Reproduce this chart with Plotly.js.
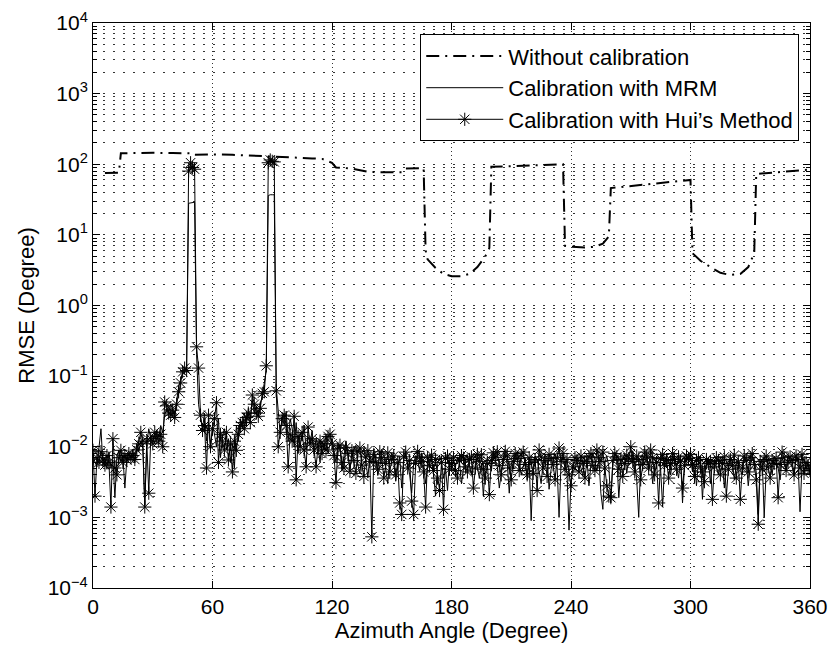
<!DOCTYPE html>
<html>
<head>
<meta charset="utf-8">
<script src="https://cdn.plot.ly/plotly-3.0.1.min.js"></script>
<style>html,body{margin:0;padding:0;background:#fff;}#chart{width:831px;height:653px;}</style>
</head>
<body>
<div id="chart"></div>
<script>
// Azimuth angles (degrees) for the calibrated series
var angles = [];
for (var a = 0; a <= 360; a++) angles.push(a);

// Without calibration
var withoutX = [6,13,14,20,30,40,49,50,60,70,80,90,100,110,115,120,122,130,138,145,155,156,157,166,167,168,172,176,180,185,189,193,197,199,200,210,220,230,236,237,240,247,252,256,259,260,270,280,290,300,301,305,310,315,320,325,329,332,333,340,350,360];
var withoutY = [75,76,143,145,145,144,143,136,138,136,133,130,125,121,119,105,90,87,78,77,77,80,87,88,6,4.5,3.4,2.8,2.6,2.6,2.8,3.5,5,6.5,92,94,96,98,100,7,6.8,6.6,6.8,7.5,9.5,46,49,53,56,60,5.5,4.3,3.5,2.9,2.7,2.8,3.5,5.5,73,76,79,84];

// Calibration with MRM (0..360 deg, 1 deg step)
var mrm = [
0.0080,0.0060,0.0052,0.0090,0.0180,0.0055,0.0070,0.0048,0.0085,0.0050,
0.0065,0.0019,0.0072,0.0090,0.0060,0.0075,0.0026,0.0068,0.0080,0.0070,
0.0090,0.0060,0.0110,0.0085,0.0120,0.0095,0.0015,0.0110,0.0180,0.0130,
0.0150,0.0110,0.0170,0.0140,0.0200,0.0160,0.0280,0.0350,0.0300,0.0400,
0.0330,0.0280,0.0450,0.0700,0.0900,0.1100,0.1200,0.1300,28,28.5,
29,29,0.2000,0.0400,0.0250,0.0180,0.0300,0.0120,0.0220,0.0090,
0.0200,0.0150,0.0100,0.0250,0.0070,0.0140,0.0180,0.0090,0.0130,0.0060,
0.0110,0.0050,0.0200,0.0120,0.0250,0.0180,0.0300,0.0200,0.0350,0.0250,
0.0450,0.0300,0.0380,0.0280,0.0420,0.0500,0.0800,0.1200,36,37,
37,37,0.0700,0.0350,0.0150,0.0280,0.0200,0.0320,0.0120,0.0250,
0.0180,0.0100,0.0220,0.0080,0.0160,0.0120,0.0200,0.0090,0.0140,0.0110,
0.0170,0.0080,0.0130,0.0100,0.0060,0.0120,0.0090,0.0150,0.0080,0.0110,
0.0130,0.0085,0.0060,0.0110,0.0095,0.0045,0.0070,0.0120,0.0080,0.0050,
0.0068,0.0092,0.0105,0.0055,0.0042,0.0080,0.0095,0.0064,0.0036,0.0075,
0.0058,0.0088,0.0070,0.0040,0.0052,0.0092,0.0078,0.0046,0.0030,0.0066,
0.0082,0.0060,0.0033,0.0050,0.0072,0.0026,0.0065,0.0080,0.0054,0.0040,
0.0022,0.0058,0.0075,0.0068,0.0045,0.0082,0.0060,0.0030,0.0052,0.0078,
0.0064,0.0040,0.0020,0.0055,0.0075,0.0062,0.0036,0.0050,0.0024,0.0066,
0.0062,0.0045,0.0052,0.0072,0.0060,0.0030,0.0048,0.0068,0.0075,0.0056,
0.0040,0.0065,0.0078,0.0050,0.0036,0.0058,0.0020,0.0055,0.0070,0.0062,
0.0045,0.0080,0.0066,0.0052,0.0026,0.0042,0.0070,0.0076,0.0058,0.0022,
0.0060,0.0048,0.0072,0.0085,0.0064,0.0040,0.0055,0.0068,0.0034,0.0062,
0.0009,0.0050,0.0074,0.0066,0.0045,0.0030,0.0060,0.0078,0.0070,0.0025,
0.0048,0.0064,0.0080,0.0055,0.0010,0.0058,0.0072,0.0066,0.0042,0.00066,
0.0032,0.0056,0.0046,0.0070,0.0062,0.0050,0.0038,0.0075,0.0068,0.0028,
0.0055,0.0082,0.0064,0.0045,0.0070,0.0022,0.0013,0.0060,0.0074,0.0052,
0.0016,0.0058,0.0084,0.0070,0.0019,0.0048,0.0066,0.0080,0.0042,0.0072,
0.0060,0.0088,0.0050,0.0034,0.0010,0.0062,0.0076,0.0056,0.0082,0.0045,
0.0068,0.0030,0.0055,0.0074,0.0064,0.0048,0.0014,0.0058,0.0078,0.0066,
0.0040,0.0062,0.0072,0.0050,0.0036,0.0068,0.0016,0.0054,0.0076,0.0060,
0.0070,0.0044,0.0058,0.0028,0.0064,0.0074,0.0018,0.0056,0.0048,0.0068,
0.0030,0.0060,0.0066,0.0052,0.0040,0.0072,0.0058,0.0026,0.0064,0.0050,
0.0074,0.0062,0.0034,0.0056,0.0068,0.0046,0.0040,0.0070,0.0060,0.0028,
0.0052,0.0072,0.0064,0.0044,0.0011,0.0058,0.0066,0.0010,0.0048,0.0070,
0.0056,0.0040,0.0074,0.0062,0.0050,0.0034,0.0068,0.0058,0.0045,0.0078,
0.0064,0.0052,0.0038,0.0072,0.0060,0.0012,0.0056,0.0070,0.0046,0.0062,
0.0040];

// Calibration with Hui's Method (0..360 deg, 1 deg step)
var hui = [
0.0089,0.0020,0.0070,0.0060,0.0085,0.0065,0.0055,0.0075,0.0060,0.0014,
0.0130,0.0050,0.0040,0.0070,0.0089,0.0060,0.0075,0.0065,0.0080,0.0070,
0.0075,0.0066,0.0090,0.0110,0.0160,0.0120,0.0014,0.0120,0.0022,0.0130,
0.0110,0.0160,0.0140,0.0120,0.0150,0.0100,0.0430,0.0380,0.0300,0.0280,
0.0330,0.0260,0.0400,0.0600,0.0800,0.1150,0.1300,0.1200,80,105,
90,85,0.2600,0.1300,0.0280,0.0170,0.0200,0.0050,0.0280,0.0100,
0.0180,0.0250,0.0420,0.0060,0.0150,0.0120,0.0090,0.0160,0.0065,0.0110,
0.0044,0.0120,0.0089,0.0150,0.0200,0.0220,0.0180,0.0260,0.0300,0.0220,
0.0540,0.0400,0.0300,0.0270,0.0350,0.0570,0.0600,0.1400,105,115,
110,108,0.0620,0.0100,0.0160,0.0250,0.0280,0.0200,0.0052,0.0150,
0.0120,0.0270,0.0034,0.0140,0.0100,0.0160,0.0090,0.0052,0.0190,0.0110,
0.0130,0.0090,0.0052,0.0100,0.0120,0.0080,0.0110,0.0090,0.0140,0.0150,
0.0110,0.0075,0.0031,0.0095,0.0105,0.0060,0.0050,0.0098,0.0080,0.0045,
0.0088,0.0064,0.0042,0.0085,0.0096,0.0055,0.0038,0.0072,0.0088,0.0062,
0.00053,0.0078,0.0060,0.0048,0.0085,0.0070,0.0036,0.0058,0.0082,0.0044,
0.0066,0.0074,0.0040,0.0060,0.0016,0.0011,0.0072,0.0084,0.0050,0.0064,
0.0017,0.0011,0.0058,0.0086,0.0072,0.0062,0.0044,0.0014,0.0070,0.0054,
0.0076,0.0046,0.0066,0.0036,0.0024,0.0060,0.0013,0.0068,0.0074,0.0048,
0.0058,0.0070,0.0046,0.0036,0.0064,0.0075,0.0069,0.0052,0.0044,0.0066,
0.0072,0.0026,0.0050,0.0078,0.0062,0.0077,0.0048,0.0036,0.0058,0.0021,
0.0064,0.0082,0.0070,0.0085,0.0054,0.0040,0.0066,0.0086,0.0074,0.0050,
0.0034,0.0062,0.0080,0.0068,0.0046,0.0076,0.0084,0.0056,0.0040,0.0070,
0.0060,0.0042,0.0066,0.0024,0.0090,0.0072,0.0050,0.0064,0.0038,0.0078,
0.0068,0.0056,0.0034,0.0070,0.0096,0.0062,0.0080,0.0048,0.0066,0.0040,
0.0028,0.0052,0.0070,0.0064,0.0044,0.0074,0.0058,0.0036,0.0062,0.0072,
0.0080,0.0054,0.0046,0.0090,0.0070,0.0062,0.0084,0.0050,0.0028,0.0020,
0.0019,0.0064,0.0080,0.0072,0.0048,0.0066,0.0038,0.0058,0.0076,0.0068,
0.0100,0.0062,0.0044,0.0074,0.0066,0.0034,0.0056,0.0084,0.0072,0.0050,
0.0090,0.0070,0.0040,0.0060,0.0016,0.0068,0.0078,0.0054,0.0064,0.0036,
0.0058,0.0080,0.0066,0.0048,0.0072,0.0062,0.0026,0.0054,0.0074,0.0068,
0.0078,0.0056,0.0038,0.0064,0.0070,0.0052,0.0044,0.0032,0.0066,0.0058,
0.0062,0.0018,0.0052,0.0070,0.0064,0.0040,0.0058,0.0072,0.0020,0.0048,
0.0066,0.0054,0.0076,0.0036,0.0060,0.0018,0.0050,0.0074,0.0064,0.0044,
0.0070,0.0080,0.0056,0.0034,0.0008,0.0062,0.0048,0.0066,0.0074,0.0052,
0.0036,0.0064,0.0058,0.0068,0.0019,0.0056,0.0084,0.0070,0.0046,0.0060,
0.0072,0.0064,0.0040,0.0074,0.0066,0.0050,0.0078,0.0042,0.0060,0.0054,
0.0046];

// Axis tick labels
var xTicks = [0,60,120,180,240,300,360];
var yTickExp = [-4,-3,-2,-1,0,1,2,3,4];
var yTickText = ['10<sup>\u22124</sup>','10<sup>\u22123</sup>','10<sup>\u22122</sup>','10<sup>\u22121</sup>','10<sup>0</sup>','10<sup>1</sup>','10<sup>2</sup>','10<sup>3</sup>','10<sup>4</sup>'];
var seriesNames = ['Without calibration','Calibration with MRM','Calibration with Hui\u2019s Method'];

var yTickVals = yTickExp.map(function(e){ return Math.pow(10, e); });
var minorVals = [];
for (var e = -4; e < 4; e++) for (var m = 2; m <= 9; m++) minorVals.push(m * Math.pow(10, e));

var hDash = '1.5px,8.5px';
var vDash = '1px,3px';
var traces = [
  {x: withoutX, y: withoutY, name: seriesNames[0], type: 'scatter', mode: 'lines',
   line: {color: '#000', width: 2, dash: '13px,6px,2px,6px'}},
  {x: angles, y: mrm, name: seriesNames[1], type: 'scatter', mode: 'lines',
   line: {color: '#000', width: 1}},
  {x: angles, y: hui, name: seriesNames[2], type: 'scatter', mode: 'lines+markers',
   line: {color: '#000', width: 1},
   marker: {symbol: 'asterisk-open', size: 11, color: '#000', line: {color: '#000', width: 1}}}
];

var layout = {
  width: 831, height: 653,
  margin: {l: 93, r: 21, t: 23, b: 65},
  paper_bgcolor: '#fff', plot_bgcolor: '#fff',
  font: {family: 'Liberation Sans, Arial, sans-serif', size: 21, color: '#000'},
  showlegend: true,
  legend: {x: 0.985, y: 0.98, xanchor: 'right', yanchor: 'top', bgcolor: '#fff',
           bordercolor: '#000', borderwidth: 1, font: {size: 22}, itemwidth: 77, tracegroupgap: 0},
  xaxis: {range: [0, 360], tickmode: 'array', tickvals: xTicks, ticktext: xTicks.map(String),
          ticks: 'inside', ticklen: 7, tickcolor: '#000', showline: true, linecolor: '#000', linewidth: 1,
          mirror: 'ticks', showgrid: true, gridcolor: '#333', griddash: vDash, gridwidth: 1,
          zeroline: false, tickfont: {size: 21},
          title: {text: 'Azimuth Angle (Degree)', font: {size: 22}, standoff: 4}},
  yaxis: {type: 'log', range: [-4, 4], tickmode: 'array', tickvals: yTickVals, ticktext: yTickText,
          ticks: 'inside', ticklen: 7, tickcolor: '#000', showline: true, linecolor: '#000', linewidth: 1,
          mirror: 'ticks', showgrid: true, gridcolor: '#333', griddash: hDash, gridwidth: 1,
          zeroline: false, tickfont: {size: 21},
          minor: {tickmode: 'array', tickvals: minorVals, ticks: 'inside', ticklen: 4, tickcolor: '#000',
                  showgrid: true, gridcolor: '#333', griddash: hDash, gridwidth: 1},
          title: {text: 'RMSE (Degree)', font: {size: 22}, standoff: 6}}
};

Plotly.newPlot('chart', traces, layout, {displayModeBar: false, staticPlot: true});
</script>
</body>
</html>
